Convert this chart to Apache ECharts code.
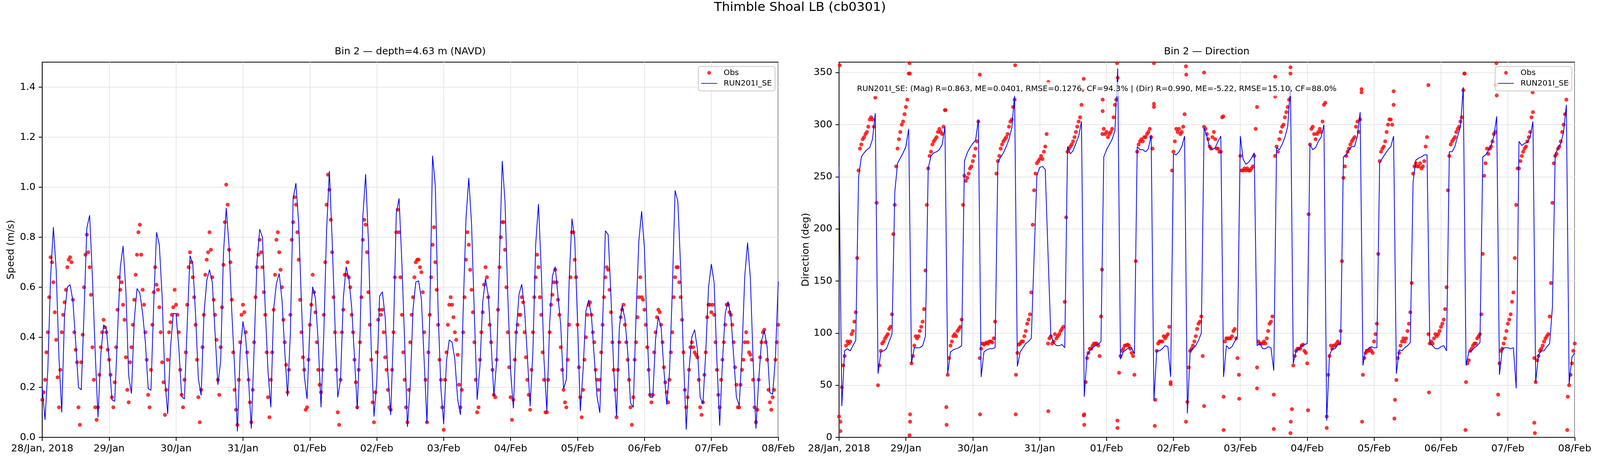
<!DOCTYPE html>
<html>
<head>
<meta charset="utf-8">
<title>Thimble Shoal LB (cb0301)</title>
<script src="https://cdn.jsdelivr.net/npm/echarts@6/dist/echarts.min.js"></script>
<style>
  html, body { margin: 0; padding: 0; background: #fff; overflow: hidden; }
</style>
</head>
<body>
<div id="main"></div>
<script>
// x values are hours since 28 Jan 2018 00:00; one tick per day
var dayLabels = ['28/Jan, 2018', '29/Jan', '30/Jan', '31/Jan', '01/Feb', '02/Feb',
    '03/Feb', '04/Feb', '05/Feb', '06/Feb', '07/Feb', '08/Feb'];
var speedTicks = [0, 0.2, 0.4, 0.6, 0.8, 1.0, 1.2, 1.4];
var dirTicks = [0, 50, 100, 150, 200, 250, 300, 350];

// model speed (m/s), hourly, h = 0..264
var modelSpeed = [
    0.20, 0.07, 0.27, 0.64, 0.84, 0.67, 0.32, 0.10, 0.49, 0.60, 0.61, 0.545,
    0.38, 0.20, 0.19, 0.50, 0.836, 0.888, 0.64, 0.34, 0.08, 0.33, 0.45, 0.434,
    0.31, 0.15, 0.144, 0.415, 0.68, 0.765, 0.586, 0.246, 0.175, 0.467, 0.595, 0.577,
    0.497, 0.379, 0.195, 0.188, 0.54, 0.82, 0.77, 0.564, 0.23, 0.094, 0.356, 0.495,
    0.495, 0.356, 0.164, 0.153, 0.45, 0.726, 0.693, 0.49, 0.234, 0.168, 0.49, 0.626,
    0.67, 0.62, 0.416, 0.21, 0.305, 0.734, 0.917, 0.767, 0.50, 0.28, 0.024, 0.34,
    0.464, 0.393, 0.23, 0.035, 0.356, 0.697, 0.832, 0.80, 0.512, 0.26, 0.12, 0.512,
    0.615, 0.655, 0.549, 0.342, 0.164, 0.416, 0.955, 1.016, 0.852, 0.527, 0.246, 0.153,
    0.445, 0.602, 0.556, 0.379, 0.12, 0.416, 0.83, 1.065, 0.785, 0.453, 0.16, 0.23,
    0.556, 0.682, 0.634, 0.519, 0.32, 0.112, 0.416, 0.882, 1.052, 0.785, 0.356, 0.083,
    0.223, 0.564, 0.582, 0.482, 0.253, 0.09, 0.43, 0.896, 0.955, 0.697, 0.379, 0.042,
    0.209, 0.512, 0.621, 0.626, 0.553, 0.305, 0.057, 0.49, 1.126, 1.007, 0.504, 0.194,
    0.053, 0.305, 0.39, 0.38, 0.312, 0.153, 0.09, 0.512, 0.874, 1.037, 0.852, 0.49,
    0.15, 0.283, 0.541, 0.634, 0.567, 0.379, 0.164, 0.305, 0.712, 1.105, 0.941, 0.564,
    0.268, 0.116, 0.416, 0.571, 0.612, 0.512, 0.327, 0.124, 0.342, 0.771, 0.933, 0.667,
    0.305, 0.105, 0.453, 0.645, 0.682, 0.564, 0.445, 0.194, 0.231, 0.623, 0.874, 0.793,
    0.467, 0.105, 0.268, 0.504, 0.549, 0.486, 0.32, 0.164, 0.098, 0.453, 0.826, 0.81,
    0.564, 0.268, 0.083, 0.438, 0.527, 0.475, 0.342, 0.138, 0.12, 0.49, 0.785, 0.904,
    0.756, 0.416, 0.16, 0.16, 0.393, 0.482, 0.438, 0.268, 0.131, 0.26, 0.586, 0.987,
    0.942, 0.675, 0.32, 0.031, 0.268, 0.401, 0.43, 0.353, 0.16, 0.136, 0.342, 0.60,
    0.693, 0.619, 0.305, 0.047, 0.305, 0.497, 0.543, 0.486, 0.327, 0.16, 0.127, 0.342,
    0.645, 0.778, 0.638, 0.305, 0.035, 0.231, 0.386, 0.427, 0.364, 0.179, 0.172, 0.32,
    0.623
];

// observed speed (m/s), every 30 min, h = 0..264
var obsSpeed = [
    0.15, 0.18, 0.23, 0.34, 0.42, 0.56, 0.72, 0.70, 0.62, 0.50, 0.39, 0.24,   // h0
    0.12, 0.27, 0.42, 0.49, 0.54, 0.59, 0.68, 0.71, 0.72, 0.70, 0.55, 0.42,   // h6
    0.35, 0.30, 0.12, 0.05, 0.30, 0.41, 0.60, 0.73, 0.81, 0.74, 0.68, 0.57,   // h12
    0.36, 0.23, 0.12, 0.07, 0.12, 0.25, 0.36, 0.42, 0.47, 0.44, 0.42, 0.35,   // h18
    0.31, 0.25, 0.16, 0.12, 0.22, 0.36, 0.51, 0.64, 0.59, 0.62, 0.53, 0.47,   // h24
    0.32, 0.19, 0.14, 0.30, 0.36, 0.45, 0.55, 0.65, 0.73, 0.82, 0.85, 0.73,   // h30
    0.59, 0.53, 0.42, 0.31, 0.17, 0.12, 0.27, 0.45, 0.58, 0.68, 0.61, 0.59,   // h36
    0.52, 0.42, 0.30, 0.22, 0.09, 0.19, 0.31, 0.42, 0.46, 0.49, 0.52, 0.59,   // h42
    0.53, 0.49, 0.42, 0.27, 0.17, 0.12, 0.23, 0.34, 0.53, 0.68, 0.74, 0.70,   // h48
    0.64, 0.56, 0.45, 0.31, 0.16, 0.06, 0.19, 0.36, 0.49, 0.65, 0.71, 0.74,   // h54
    0.82, 0.75, 0.64, 0.55, 0.49, 0.39, 0.23, 0.17, 0.36, 0.52, 0.69, 0.86,   // h60
    1.01, 0.93, 0.75, 0.70, 0.55, 0.34, 0.19, 0.11, 0.05, 0.23, 0.38, 0.49,   // h66
    0.53, 0.50, 0.42, 0.34, 0.23, 0.14, 0.06, 0.19, 0.38, 0.56, 0.68, 0.73,   // h72
    0.79, 0.74, 0.68, 0.58, 0.49, 0.34, 0.16, 0.08, 0.23, 0.34, 0.51, 0.65,   // h78
    0.79, 0.82, 0.74, 0.67, 0.60, 0.47, 0.38, 0.29, 0.18, 0.27, 0.49, 0.79,   // h84
    0.86, 0.96, 0.93, 0.82, 0.71, 0.55, 0.42, 0.32, 0.27, 0.11, 0.12, 0.31,   // h90
    0.45, 0.53, 0.65, 0.58, 0.50, 0.38, 0.27, 0.21, 0.18, 0.27, 0.49, 0.70,   // h96
    0.93, 1.05, 0.99, 0.87, 0.74, 0.56, 0.42, 0.27, 0.10, 0.05, 0.23, 0.42,   // h102
    0.51, 0.65, 0.65, 0.70, 0.64, 0.60, 0.49, 0.42, 0.31, 0.22, 0.12, 0.27,   // h108
    0.38, 0.56, 0.79, 0.87, 0.85, 0.74, 0.58, 0.45, 0.31, 0.14, 0.06, 0.18,   // h114
    0.34, 0.47, 0.51, 0.49, 0.51, 0.42, 0.32, 0.27, 0.19, 0.12, 0.11, 0.27,   // h120
    0.42, 0.64, 0.82, 0.91, 0.82, 0.64, 0.49, 0.34, 0.23, 0.12, 0.06, 0.19,   // h126
    0.38, 0.49, 0.56, 0.64, 0.70, 0.71, 0.71, 0.68, 0.66, 0.58, 0.42, 0.23,   // h132
    0.06, 0.34, 0.49, 0.64, 0.77, 0.84, 0.70, 0.59, 0.45, 0.31, 0.23, 0.12,   // h138
    0.03, 0.23, 0.34, 0.45, 0.53, 0.56, 0.53, 0.48, 0.42, 0.39, 0.33, 0.21,   // h144
    0.12, 0.19, 0.42, 0.56, 0.71, 0.82, 0.77, 0.67, 0.59, 0.50, 0.38, 0.23,   // h150
    0.10, 0.12, 0.31, 0.42, 0.50, 0.61, 0.68, 0.64, 0.56, 0.45, 0.38, 0.27,   // h156
    0.17, 0.16, 0.31, 0.51, 0.68, 0.80, 0.86, 0.86, 0.75, 0.60, 0.42, 0.28,   // h162
    0.16, 0.07, 0.15, 0.31, 0.42, 0.45, 0.49, 0.49, 0.56, 0.54, 0.42, 0.32,   // h168
    0.23, 0.17, 0.11, 0.27, 0.42, 0.56, 0.64, 0.73, 0.68, 0.56, 0.49, 0.34,   // h174
    0.23, 0.10, 0.10, 0.23, 0.42, 0.53, 0.57, 0.62, 0.67, 0.62, 0.55, 0.49,   // h180
    0.36, 0.27, 0.19, 0.14, 0.12, 0.31, 0.45, 0.64, 0.82, 0.82, 0.71, 0.64,   // h186
    0.45, 0.28, 0.16, 0.08, 0.19, 0.31, 0.40, 0.49, 0.53, 0.54, 0.49, 0.42,   // h192
    0.38, 0.27, 0.23, 0.19, 0.23, 0.34, 0.45, 0.56, 0.64, 0.68, 0.67, 0.59,   // h198
    0.50, 0.38, 0.27, 0.19, 0.08, 0.27, 0.38, 0.48, 0.51, 0.53, 0.45, 0.38,   // h204
    0.31, 0.23, 0.12, 0.05, 0.16, 0.31, 0.38, 0.48, 0.56, 0.64, 0.56, 0.55,   // h210
    0.51, 0.45, 0.36, 0.27, 0.17, 0.14, 0.17, 0.34, 0.42, 0.48, 0.51, 0.50,   // h216
    0.45, 0.38, 0.28, 0.22, 0.18, 0.14, 0.23, 0.34, 0.42, 0.56, 0.64, 0.68,   // h222
    0.68, 0.62, 0.56, 0.47, 0.34, 0.19, 0.12, 0.16, 0.27, 0.36, 0.38, 0.36,   // h228
    0.34, 0.33, 0.32, 0.23, 0.12, 0.09, 0.14, 0.25, 0.34, 0.48, 0.53, 0.53,   // h234
    0.50, 0.53, 0.49, 0.38, 0.27, 0.17, 0.12, 0.23, 0.31, 0.38, 0.45, 0.53,   // h240
    0.53, 0.50, 0.49, 0.45, 0.38, 0.28, 0.21, 0.12, 0.12, 0.21, 0.27, 0.31,   // h246
    0.38, 0.42, 0.38, 0.34, 0.33, 0.31, 0.23, 0.12, 0.06, 0.11, 0.23, 0.32,   // h252
    0.38, 0.42, 0.43, 0.38, 0.31, 0.19, 0.14, 0.11, 0.16, 0.19, 0.31, 0.38,   // h258
    0.45
];

// model direction (deg), hourly, h = 0..264
var modelDir = [
    260, 30, 83, 85, 83, 88, 93, 249, 269, 273, 276, 278,
    286, 311, 61, 82, 83, 85, 92, 99, 235, 263, 268, 273,
    279, 296, 71, 86, 86, 86, 88, 97, 258, 270, 273, 274,
    276, 281, 298, 61, 82, 84, 85, 86, 88, 265, 273, 278,
    282, 285, 305, 58, 82, 84, 85, 85, 86, 264, 269, 273,
    279, 286, 297, 328, 68, 82, 86, 90, 92, 95, 174, 251,
    259, 260, 257, 176, 98, 91, 88, 88, 89, 86, 279, 272,
    275, 282, 289, 303, 39, 79, 83, 86, 88, 89, 92, 269,
    276, 281, 286, 294, 354, 75, 82, 84, 86, 86, 80, 279,
    276, 276, 274, 277, 290, 35, 83, 83, 85, 88, 87, 58,
    272, 271, 274, 279, 289, 23, 83, 85, 88, 93, 100, 297,
    289, 278, 276, 278, 284, 289, 58, 88, 85, 87, 92, 97,
    289, 267, 262, 264, 268, 273, 88, 90, 85, 85, 87, 86,
    64, 278, 276, 281, 288, 298, 337, 71, 83, 85, 88, 89,
    90, 281, 276, 278, 284, 288, 300, 16, 79, 85, 85, 89,
    90, 269, 271, 276, 279, 279, 289, 312, 69, 84, 85, 87,
    86, 86, 263, 268, 272, 276, 279, 289, 61, 84, 83, 86,
    88, 91, 245, 266, 268, 269, 271, 271, 90, 88, 85, 85,
    87, 88, 83, 274, 274, 279, 289, 298, 336, 69, 82, 83,
    86, 88, 91, 269, 271, 275, 280, 289, 308, 60, 85, 86,
    86, 85, 86, 47, 284, 280, 282, 283, 288, 303, 53, 79,
    83, 83, 87, 90, 125, 272, 277, 282, 293, 319, 51, 77,
    81
];

// observed direction (deg), every 30 min, h = 0..264
var obsDir = [
    20, 15, 48, 69, 78, 88, 92, 90, 92, 99, 102, 111,          // h0
    120, 172, 256, 277, 281, 286, 288, 291, 293, 298, 305, 307, // h6
    305, 298, 326, 225, 50, 69, 83, 90, 92, 95, 97, 99,         // h12
    104, 106, 118, 195, 223, 260, 277, 286, 293, 300, 303, 310, // h18
    317, 324, 349, 22, 71, 78, 88, 97, 95, 97, 102, 106,        // h24
    111, 123, 160, 223, 258, 270, 274, 281, 284, 286, 288, 293, // h30
    296, 293, 291, 298, 314, 29, 60, 76, 88, 92, 97, 99,        // h36
    97, 102, 104, 106, 113, 223, 251, 246, 249, 253, 258, 260,  // h42
    265, 270, 277, 284, 303, 76, 85, 90, 89, 90, 91, 90,        // h48
    92, 92, 91, 95, 111, 253, 265, 270, 277, 281, 284, 286,     // h54
    288, 291, 298, 303, 305, 317, 324, 60, 81, 89, 90, 92,      // h60
    92, 97, 102, 109, 113, 118, 139, 204, 237, 253, 263, 265,   // h66
    267, 270, 267, 274, 279, 291, 90, 95, 97, 90, 92, 99,       // h72
    95, 97, 99, 102, 104, 106, 130, 211, 274, 277, 279, 281,    // h78
    284, 288, 293, 298, 303, 307, 319, 333, 22, 53, 76, 81,     // h84
    85, 85, 88, 90, 90, 90, 88, 78, 116, 291, 296, 291,         // h90
    293, 288, 291, 293, 296, 307, 319, 324, 345, 62, 78, 83,    // h96
    85, 88, 88, 89, 88, 85, 81, 78, 60, 169, 274, 281,          // h102
    284, 286, 284, 288, 288, 291, 293, 296, 288, 277, 317, 36,  // h108
    83, 90, 92, 92, 92, 97, 95, 97, 99, 106, 53, 256,           // h114
    274, 284, 296, 293, 296, 291, 293, 298, 310, 15, 34, 67,    // h120
    83, 85, 88, 92, 97, 104, 109, 111, 116, 78, 298, 296,       // h126
    291, 286, 279, 277, 288, 293, 286, 277, 277, 274, 274, 307, // h132
    39, 92, 95, 95, 95, 95, 97, 102, 104, 95, 76, 60,           // h138
    270, 256, 256, 258, 256, 258, 256, 256, 258, 260, 270, 296, // h144
    67, 92, 90, 90, 90, 92, 90, 95, 102, 109, 111, 116,         // h150
    41, 270, 279, 274, 286, 293, 298, 300, 307, 312, 317, 324,  // h156
    349, 27, 69, 78, 83, 85, 85, 85, 88, 89, 83, 81,            // h162
    71, 214, 281, 296, 298, 291, 286, 291, 293, 296, 293, 303,  // h168
    319, 321, 20, 60, 78, 88, 85, 88, 88, 90, 92, 90,           // h174
    102, 169, 249, 260, 270, 274, 277, 281, 284, 286, 288, 298, // h180
    303, 293, 305, 331, 60, 76, 81, 83, 83, 85, 83, 81,         // h186
    92, 99, 109, 176, 265, 274, 277, 279, 284, 293, 300, 305,   // h192
    305, 300, 319, 36, 55, 76, 81, 88, 92, 95, 92, 95,          // h198
    102, 109, 120, 148, 253, 260, 263, 260, 260, 263, 258, 260, // h204
    265, 279, 288, 99, 90, 92, 90, 95, 99, 97, 99, 102,         // h210
    106, 109, 113, 123, 144, 237, 270, 281, 284, 286, 288, 293, // h216
    296, 298, 303, 307, 333, 349, 53, 71, 74, 83, 85, 88,       // h222
    90, 90, 95, 97, 99, 118, 176, 251, 263, 277, 272, 277,      // h228
    279, 284, 291, 293, 328, 41, 71, 83, 85, 90, 95, 102,       // h234
    109, 113, 118, 130, 139, 172, 223, 258, 258, 265, 270, 274, // h240
    277, 279, 284, 288, 293, 307, 312, 76, 53, 74, 78, 83,      // h246
    85, 88, 92, 95, 97, 99, 116, 148, 225, 263, 270, 272,       // h252
    277, 279, 284, 293, 300, 310, 324, 39, 50, 60, 71, 83,      // h258
    90
];

// scattered observed directions around the flow reversals
var obsDirExtraHours = [
    0.25, 0.5, 25.3, 25.4, 25.3, 25.5, 38.2, 38.6, 50.5, 50.6, 63.2, 63.4,
    75.1, 75.1, 87.8, 87.8, 88.0, 94.6, 94.6, 94.4, 99.8, 99.9, 99.9, 113.0,
    113.0, 113.3, 119.0, 124.5, 124.6, 131.0, 131.0, 137.9, 138.0, 150.0, 150.0, 156.0,
    156.5, 156.5, 162.0, 162.0, 162.1, 168.3, 175.0, 143.6, 187.5, 187.7, 199.0, 199.3,
    211.5, 211.7, 224.4, 224.8, 235.9, 235.8, 236.6, 248.9, 249.5, 249.7, 261.3, 261.5
];
var obsDirExtraValues = [
    357, 6, 359, 349, 2, 15, 314, 12, 348, 22, 357, 22,
    341, 25, 344, 21, 12, 324, 313, 161, 359, 16, 9, 359,
    320, 11, 51, 356, 348, 350, 30, 308, 7, 317, 47, 8,
    346, 327, 355, 4, 15, 26, 9, 37, 334, 15, 332, 18,
    338, 43, 349, 7, 359, 338, 22, 331, 14, 4, 7, 340
];

var FONT = 'DejaVu Sans';

// the layout is drawn for a 5000x1200 figure and scaled to the real window
var W = window.innerWidth || 5000;
var H = window.innerHeight || 1200;
var sx = W / 5000, sy = H / 1200;
var fs = Math.sqrt(sx * sy);
function X(v) { return v * sx; }
function Y(v) { return v * sy; }
function F(v) { return v * fs; }

var el = document.getElementById('main');
el.style.width = W + 'px';
el.style.height = H + 'px';

function hourly(arr) {
    return arr.map(function (v, i) { return [i, v]; });
}
function halfHourly(arr) {
    return arr.map(function (v, i) { return [i / 2, v]; });
}
var obsDirData = halfHourly(obsDir).concat(obsDirExtraHours.map(function (h, i) {
    return [h, obsDirExtraValues[i]];
}));

var myChart = echarts.init(el);

function xAxisFor(gridIndex) {
    return {
        type: 'value',
        gridIndex: gridIndex,
        min: 0,
        max: 264,
        interval: 24,
        axisLine: {show: true, onZero: false, lineStyle: {color: '#000', width: 2}},
        axisTick: {show: true, length: F(10), lineStyle: {color: '#000', width: 2}},
        axisLabel: {
            color: '#000', fontSize: F(27.8), fontFamily: FONT, margin: F(19),
            formatter: function (v) { return dayLabels[Math.round(v / 24)] || ''; }
        },
        splitLine: {show: true, lineStyle: {color: '#e7e7e7', width: 2}}
    };
}

function yAxisFor(gridIndex, max, interval, ticks, name, gap, digits) {
    return {
        type: 'value', gridIndex: gridIndex, min: 0, max: max, interval: interval,
        name: name, nameLocation: 'middle', nameGap: gap,
        nameTextStyle: {color: '#000', fontSize: F(27.8), fontFamily: FONT},
        axisLine: {show: true, lineStyle: {color: '#000', width: 2}},
        axisTick: {show: true, length: F(10), customValues: ticks,
            lineStyle: {color: '#000', width: 2}},
        axisLabel: {
            color: '#000', fontSize: F(27.8), fontFamily: FONT, margin: F(19),
            customValues: ticks,
            formatter: function (v) { return v.toFixed(digits); }
        },
        splitLine: {show: true, lineStyle: {color: '#e7e7e7', width: 2}}
    };
}

function legendFor(rightEdge) {
    return {
        orient: 'vertical',
        right: W - X(rightEdge),
        top: Y(170),
        data: [
            {name: 'Obs', icon: 'circle'},
            {name: 'RUN201I_SE', icon: 'path://M0,0H45V2H0Z'}
        ],
        symbolKeepAspect: true,
        itemWidth: F(45),
        itemHeight: F(10.5),
        itemGap: F(4),
        padding: [F(5), F(9), F(8), F(8)],
        backgroundColor: 'rgba(255,255,255,0.8)',
        borderColor: '#d2d2d2',
        borderWidth: 2.5,
        borderRadius: 6,
        selectedMode: false,
        textStyle: {
            color: '#000', fontSize: F(22.2), fontFamily: FONT,
            lineHeight: F(26), padding: [0, 0, 0, F(13)]
        }
    };
}

function label(text, x, y, size, align, extra) {
    var style = {
        text: text, fill: '#000', font: F(size) + 'px "DejaVu Sans"',
        textAlign: align, textVerticalAlign: 'middle'
    };
    if (extra) {
        for (var k in extra) { style[k] = extra[k]; }
    }
    return {type: 'text', x: X(x), y: Y(y), z: 100, style: style};
}

var option = {
    animation: false,
    backgroundColor: '#fff',
    textStyle: {fontFamily: FONT},
    grid: [
        {left: X(132), top: Y(159), width: X(2300), height: Y(960), show: true,
            borderColor: '#000', borderWidth: 2, backgroundColor: 'transparent'},
        {left: X(2622), top: Y(159), width: X(2299), height: Y(960), show: true,
            borderColor: '#000', borderWidth: 2, backgroundColor: 'transparent'}
    ],
    legend: [legendFor(2422), legendFor(4912)],
    xAxis: [xAxisFor(0), xAxisFor(1)],
    yAxis: [
        yAxisFor(0, 1.5, 0.2, speedTicks, 'Speed (m/s)', F(74), 1),
        yAxisFor(1, 360, 50, dirTicks, 'Direction (deg)', F(80), 0)
    ],
    graphic: [
        label('Thimble Shoal LB (cb0301)', 2500, 20, 36, 'center'),
        label('Bin 2 \u2014 depth=4.63 m (NAVD)', 1282, 132, 27.8, 'center'),
        label('Bin 2 \u2014 Direction', 3771, 132, 27.8, 'center'),
        label('RUN201I_SE: (Mag) R=0.863, ME=0.0401, RMSE=0.1276, CF=94.3% | (Dir) R=0.990, ME=-5.22, RMSE=15.10, CF=88.0%',
            2669, 228, 22.2, 'left',
            {backgroundColor: 'rgba(255,255,255,0.7)', padding: [F(9), F(8)]})
    ],
    series: [
        {
            name: 'Obs', type: 'scatter', xAxisIndex: 0, yAxisIndex: 0,
            symbol: 'circle', symbolSize: F(11),
            itemStyle: {color: '#ff0000'},
            data: halfHourly(obsSpeed)
        },
        {
            name: 'RUN201I_SE', type: 'line', xAxisIndex: 0, yAxisIndex: 0,
            symbol: 'none', lineStyle: {color: '#0000ff', width: 2},
            itemStyle: {color: '#0000ff'},
            data: hourly(modelSpeed)
        },
        {
            name: 'Obs', type: 'scatter', xAxisIndex: 1, yAxisIndex: 1,
            symbol: 'circle', symbolSize: F(11),
            itemStyle: {color: '#ff0000'},
            data: obsDirData
        },
        {
            name: 'RUN201I_SE', type: 'line', xAxisIndex: 1, yAxisIndex: 1,
            symbol: 'none', lineStyle: {color: '#0000ff', width: 2},
            itemStyle: {color: '#0000ff'},
            data: hourly(modelDir)
        }
    ]
};

myChart.setOption(option);
</script>
</body>
</html>
